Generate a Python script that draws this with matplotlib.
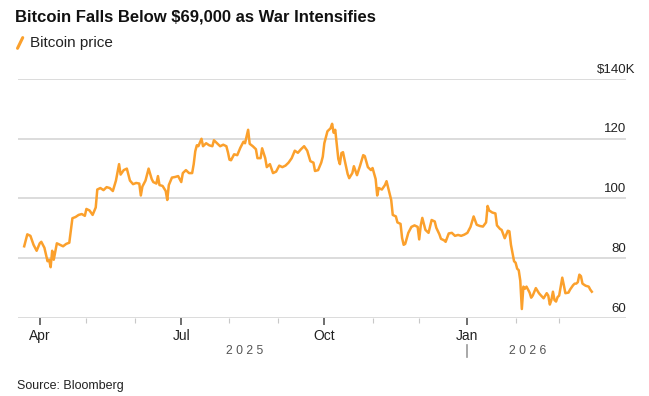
import pandas as pd
import numpy as np
import matplotlib.pyplot as plt
import matplotlib.dates as mdates
import matplotlib.transforms as mtransforms
from matplotlib.lines import Line2D

# bitcoin close, thousands of USD
dates_2025 = ['03-22','03-24','03-26','03-28','03-30','04-01','04-02','04-04','04-06','04-07',
              '04-08','04-09','04-10','04-12','04-14','04-16','04-18','04-20','04-22','04-24',
              '04-26','04-28','04-30','05-01','05-03','05-05','05-07','05-08','05-10','05-12',
              '05-14','05-16','05-18','05-20','05-22','05-23','05-25','05-27','05-29','05-31',
              '06-02','06-04','06-05','06-06','06-08','06-10','06-12','06-13','06-15','06-16',
              '06-17','06-19','06-21','06-22','06-23','06-25','06-27','06-29','07-01','07-02',
              '07-04','07-06','07-08','07-09','07-10','07-11','07-12','07-14','07-15','07-17',
              '07-19','07-21','07-22','07-24','07-26','07-28','07-30','07-31','08-01','08-02',
              '08-04','08-06','08-08','08-10','08-11','08-13','08-14','08-16','08-18','08-19',
              '08-21','08-22','08-24','08-25','08-27','08-29','08-31','09-02','09-04','09-06',
              '09-08','09-10','09-12','09-14','09-16','09-18','09-20','09-22','09-24','09-25',
              '09-27','09-29','09-30','10-01','10-03','10-05','10-06','10-07','10-08','10-10',
              '10-11','10-12','10-13','10-14','10-16','10-17','10-19','10-20','10-22','10-24',
              '10-26','10-27','10-29','10-31','11-01','11-03','11-04','11-05','11-07','11-09',
              '11-10','11-12','11-13','11-14','11-16','11-17','11-19','11-20','11-21','11-22',
              '11-24','11-26','11-28','11-30','12-01','12-02','12-03','12-05','12-07','12-09',
              '12-11','12-12','12-14','12-15','12-17','12-18','12-20','12-22','12-24','12-26',
              '12-28','12-30']
price_2025 = [84.0, 88.0, 87.5, 84.5, 82.5, 85.0, 85.5, 83.5, 79.0, 79.5,
              77.0, 82.5, 79.5, 85.0, 84.5, 84.0, 84.8, 85.2, 93.4, 93.8,
              94.5, 94.8, 94.2, 96.5, 96.0, 94.5, 97.0, 103.0, 103.5, 102.8,
              103.8, 103.5, 102.5, 106.0, 111.5, 108.0, 109.5, 110.0, 106.0, 104.8,
              105.2, 105.0, 101.0, 104.0, 106.0, 110.0, 106.5, 105.5, 105.0, 107.5,
              104.5, 104.2, 102.5, 99.5, 104.5, 107.0, 107.2, 107.5, 105.5, 108.5,
              109.5, 108.5, 108.5, 111.5, 115.8, 117.8, 117.5, 120.0, 117.5, 118.5,
              117.8, 117.5, 119.5, 118.5, 117.5, 118.0, 117.5, 115.5, 113.0, 112.8,
              114.8, 114.5, 117.0, 119.0, 118.5, 123.0, 118.3, 117.5, 116.5, 113.5,
              113.5, 116.8, 113.5, 110.5, 111.5, 108.5, 109.0, 111.0, 110.5, 111.0,
              112.0, 113.5, 116.0, 115.3, 116.5, 117.5, 116.0, 112.5, 112.0, 109.2,
              109.5, 112.0, 114.0, 118.5, 122.5, 123.5, 125.0, 122.0, 123.0, 113.2,
              111.5, 115.2, 115.5, 113.0, 108.2, 106.8, 108.5, 110.8, 107.8, 111.0,
              114.5, 114.2, 110.5, 109.5, 110.2, 106.5, 101.0, 103.5, 103.0, 104.5,
              105.8, 101.5, 99.5, 94.5, 94.0, 92.0, 91.5, 86.8, 84.5, 84.8,
              88.5, 90.5, 91.0, 90.5, 86.3, 91.0, 93.5, 89.5, 88.5, 92.8,
              92.3, 90.2, 88.0, 86.5, 86.0, 85.5, 88.3, 88.5, 87.5, 87.8,
              87.5, 87.9]
dates_2026 = ['01-01','01-03','01-05','01-07','01-09','01-11','01-13','01-14','01-15','01-17',
              '01-19','01-20','01-22','01-23','01-25','01-27','01-28','01-29','01-31','02-01',
              '02-02','02-03','02-04','02-05','02-06','02-07','02-08','02-10','02-11','02-12',
              '02-13','02-14','02-16','02-17','02-19','02-21','02-22','02-23','02-24','02-25',
              '02-26','02-27','02-28','03-01','03-03','03-04','03-05','03-07','03-08','03-10',
              '03-11','03-12','03-13','03-14','03-15','03-16','03-18','03-20','03-21','03-22']
price_2026 = [88.5, 90.5, 94.0, 91.2, 90.8, 90.6, 92.0, 97.5, 96.0, 95.3,
              95.0, 91.0, 89.8, 89.5, 86.7, 89.2, 89.0, 84.5, 79.0, 78.5,
              76.5, 76.0, 72.5, 63.0, 70.5, 69.8, 70.5, 68.5, 66.8, 67.5,
              68.8, 70.0, 68.3, 67.7, 66.6, 68.3, 67.5, 64.5, 66.0, 68.8,
              66.0, 65.5, 67.0, 67.5, 73.5, 71.0, 68.3, 68.5, 69.5, 71.0,
              71.5, 71.5, 72.0, 74.5, 74.0, 71.5, 70.8, 70.5, 69.5, 68.8]

yticks = [60, 80, 100, 120, 140]
ytick_labels = ['60', '80', '100', '120', '$140K']
major_ticks = ['2025-04-01', '2025-07-01', '2025-10-01', '2026-01-01']
major_labels = ['Apr', 'Jul', 'Oct', 'Jan']
minor_ticks = ['2025-05-01', '2025-06-01', '2025-08-01', '2025-09-01', '2025-11-01',
               '2025-12-01', '2026-02-01', '2026-03-01']

t = pd.to_datetime(['2025-' + d for d in dates_2025] + ['2026-' + d for d in dates_2026])
p = np.array(price_2025 + price_2026)

orange = '#FBA02C'
grid = '#d6d6d6'
plt.rcParams['font.family'] = ['Liberation Sans', 'DejaVu Sans']

fig = plt.figure(figsize=(6.49, 3.96), dpi=100)
ax = fig.add_axes([0.0277, 0.197, 0.9369, 0.6035])

ax.plot(t, p, color=orange, lw=1.8, solid_joinstyle='round', zorder=3)

ax.set_xlim(pd.Timestamp('2025-03-18'), pd.Timestamp('2026-04-13'))
ax.set_ylim(60, 140)

# horizontal grid + labels sitting above the lines on the right
up = mtransforms.offset_copy(ax.get_yaxis_transform(), fig=fig, y=2.5, units='points')
up_k = mtransforms.offset_copy(ax.get_yaxis_transform(), fig=fig, x=6.5, y=2.5, units='points')
for v, lab in zip(yticks, ytick_labels):
    ax.axhline(v, color=grid, lw=1.2, zorder=1)
    # the "K" hangs past the number column
    tr = up_k if lab.endswith('K') else up
    ax.text(1.0, v, lab, transform=tr, ha='right', va='bottom', fontsize=9.5, color='#222222')
ax.set_yticks([])

for s in ['top', 'right', 'left', 'bottom']:
    ax.spines[s].set_visible(False)

ax.set_xticks(pd.to_datetime(major_ticks))
ax.set_xticklabels(major_labels)
ax.set_xticks(pd.to_datetime(minor_ticks), minor=True)
ax.tick_params(axis='x', which='major', length=5, width=1.2, color='#555555', labelsize=10,
               labelcolor='#222222', pad=3)
ax.tick_params(axis='x', which='minor', length=3.5, width=0.8, color='#c8c8c8')

# year labels
xt = ax.get_xaxis_transform()
ax.text(pd.Timestamp('2025-08-11'), -0.138, '2 0 2 5', transform=xt,
        ha='center', va='center', fontsize=8.8, color='#555555')
ax.text(pd.Timestamp('2026-02-09'), -0.138, '2 0 2 6', transform=xt,
        ha='center', va='center', fontsize=8.8, color='#555555')
ax.plot([pd.Timestamp('2026-01-01')] * 2, [-0.113, -0.163], transform=xt,
        color='#999999', lw=1.2, clip_on=False)

# title, legend, source
fig.text(0.023, 0.958, 'Bitcoin Falls Below $69,000 as War Intensifies', fontsize=12,
         fontweight='bold', va='center', ha='left', color='#111111')
fig.add_artist(Line2D([0.027, 0.035], [0.878, 0.905], color=orange, lw=2.2,
                      transform=fig.transFigure, solid_capstyle='round'))
fig.text(0.046, 0.891, 'Bitcoin price', fontsize=11, va='center', ha='left', color='#222222')
fig.text(0.026, 0.025, 'Source: Bloomberg', fontsize=9, va='center', ha='left', color='#222222')

fig.savefig('out.png', dpi=100)
